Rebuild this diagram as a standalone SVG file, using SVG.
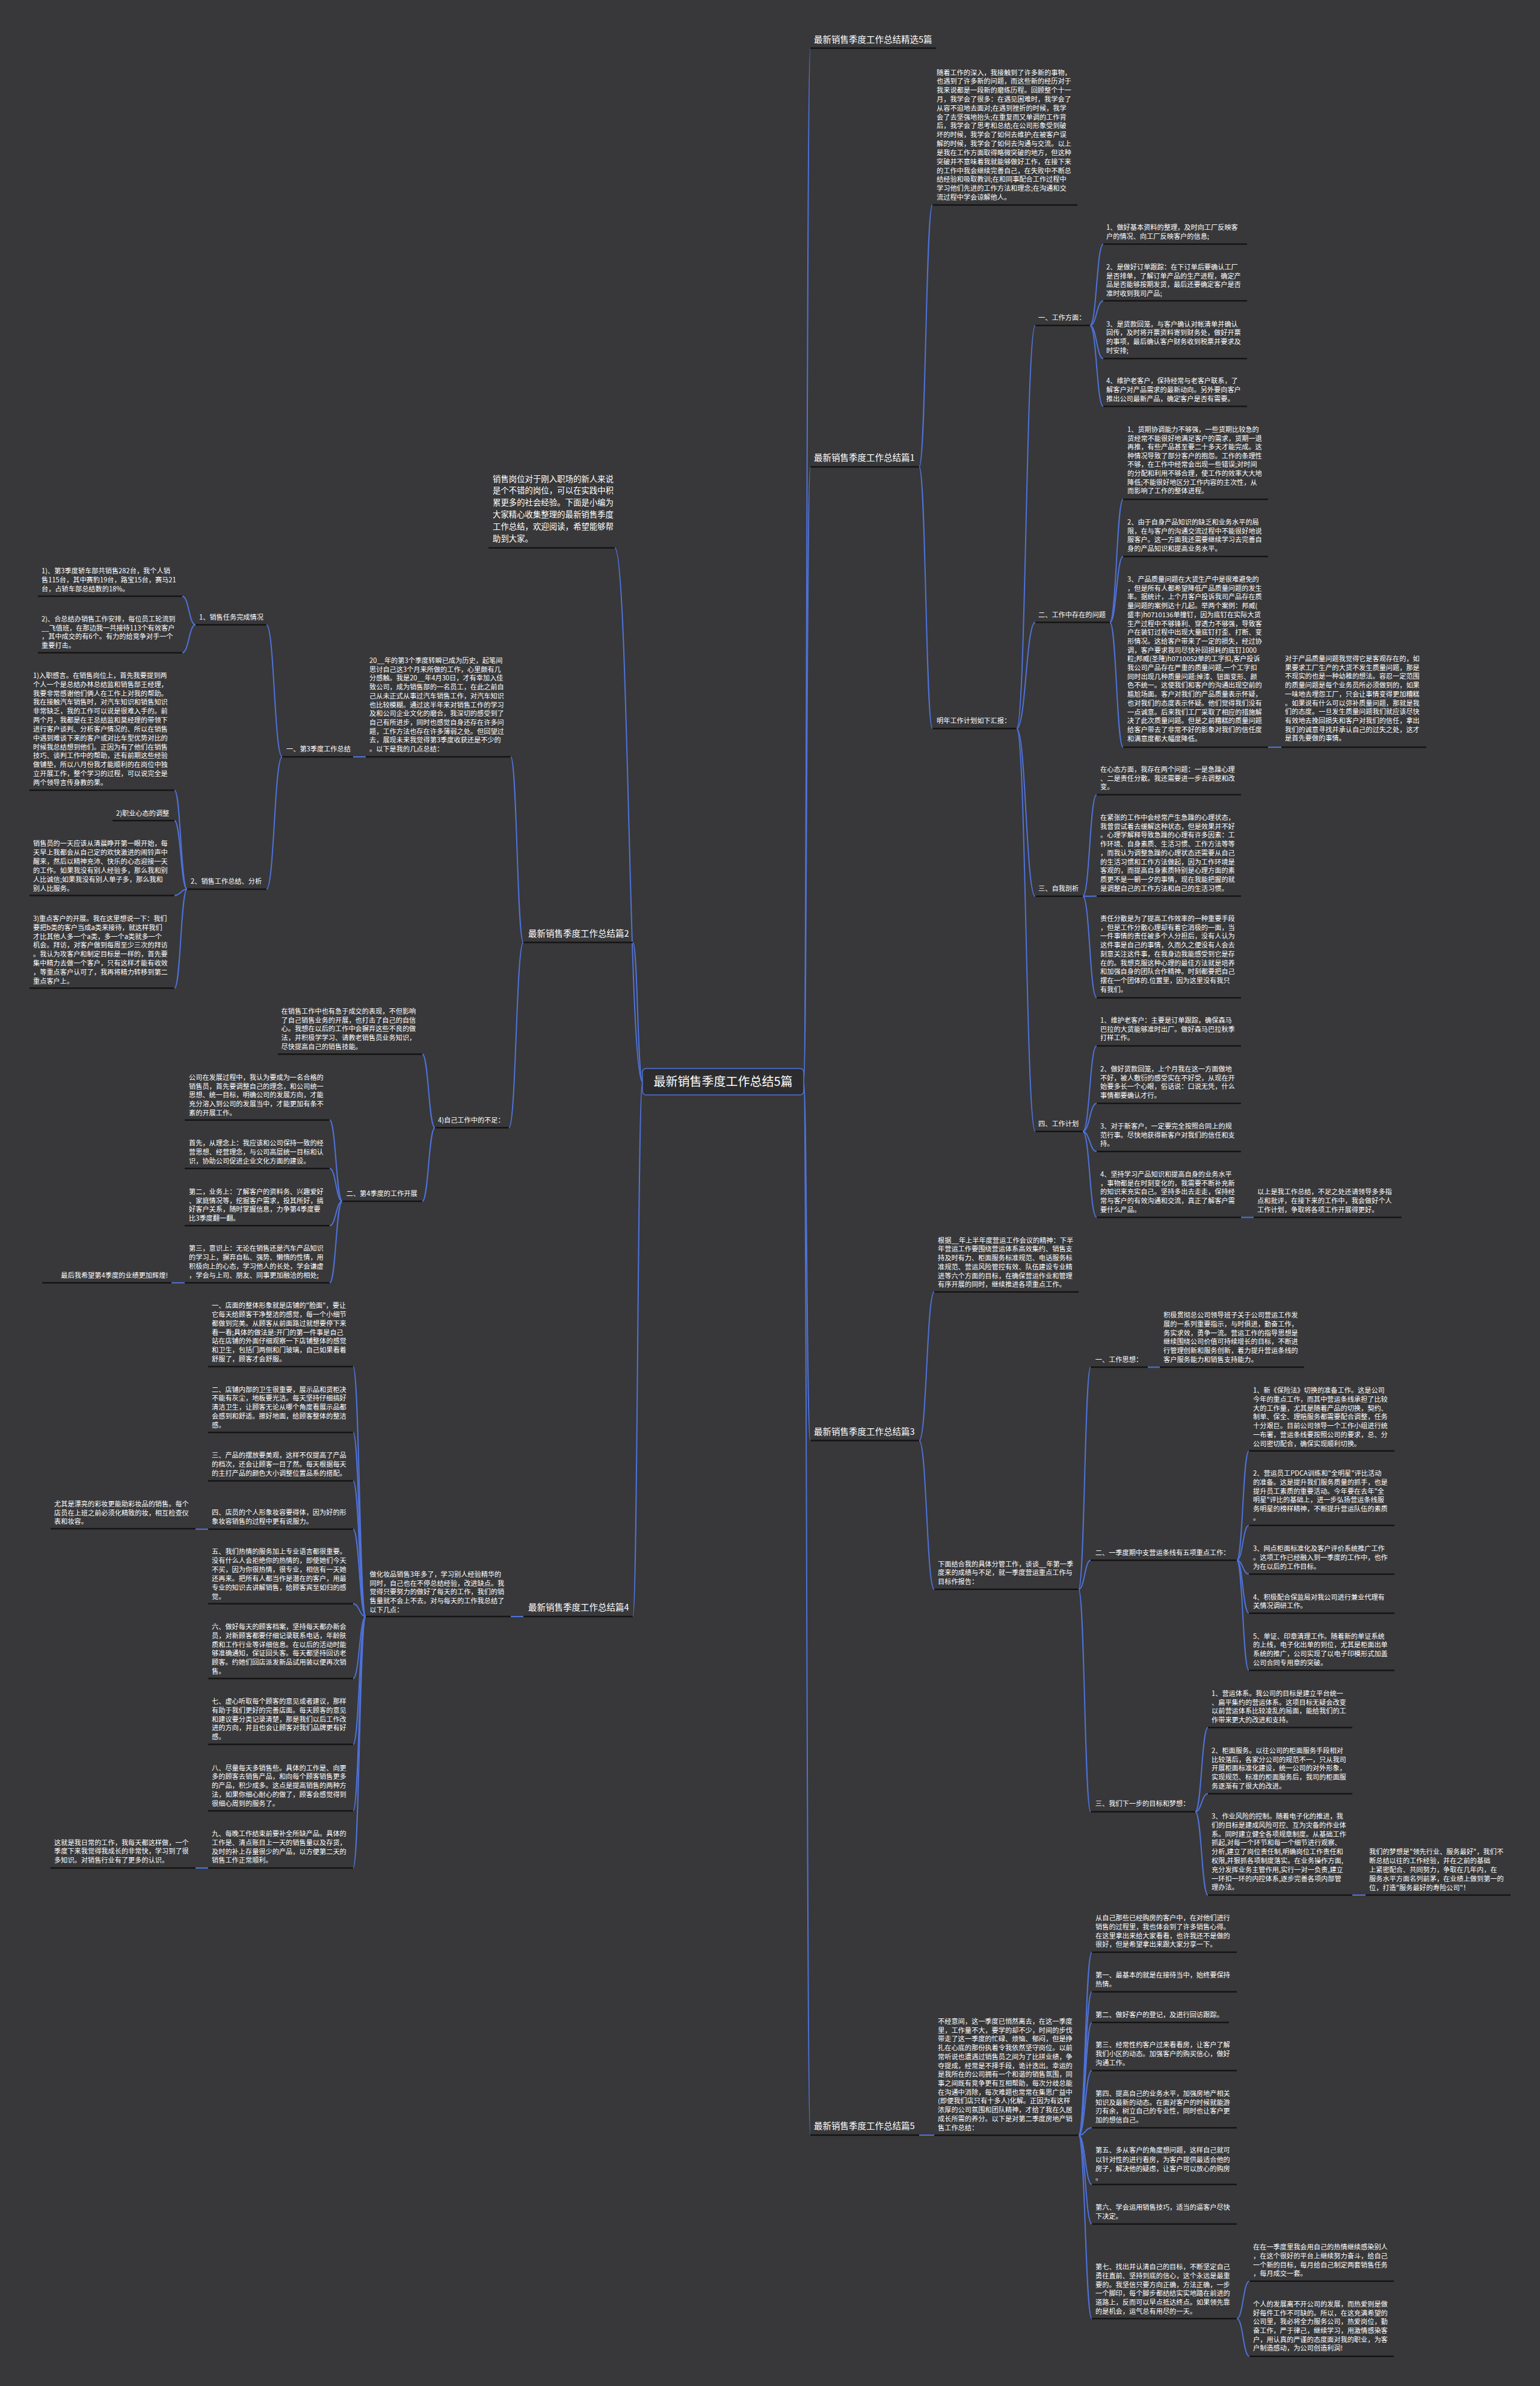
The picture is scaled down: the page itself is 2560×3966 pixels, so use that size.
<svg xmlns="http://www.w3.org/2000/svg" width="2560" height="3966" viewBox="0 0 2560 3966">
<style>
.t{font-family:"Noto Sans CJK SC","Noto Sans",sans-serif;font-size:11.2px;fill:#ffffff}
.h{font-family:"Noto Sans CJK SC","Noto Sans",sans-serif;font-size:14.5px;fill:#ffffff}
.m{font-family:"Noto Sans CJK SC","Noto Sans",sans-serif;font-size:13.4px;fill:#ffffff}
.u{stroke:#141414;stroke-width:2.5;fill:none}
.c{stroke:#4f72d9;stroke-width:2;fill:none}
</style>
<rect width="2560" height="3966" fill="#38383a"/>
<g id="connectors">
<path class="c" d="M1336,1798 C1341,1798 1341,80 1347,80"/>
<path class="c" d="M1336,1798 C1341,1798 1341,776 1347,776"/>
<path class="c" d="M1336,1798 C1341,1798 1341,2394.6 1347,2394.6"/>
<path class="c" d="M1336,1798 C1341,1798 1341,3549 1347,3549"/>
<path class="c" d="M1068,1798 C1045,1798 1045,910.7 1022,910.7"/>
<path class="c" d="M1068,1798 C1060,1798 1060,1566.5 1052,1566.5"/>
<path class="c" d="M1068,1798 C1060,1798 1060,2687 1052,2687"/>
<path class="c" d="M1528,776 C1539,776 1539,340.7 1550,340.7"/>
<path class="c" d="M1528,776 C1539,776 1539,1211 1550,1211"/>
<path class="c" d="M1690,1211 C1705.5,1211 1705.5,541 1721,541"/>
<path class="c" d="M1690,1211 C1705.5,1211 1705.5,1034.6 1721,1034.6"/>
<path class="c" d="M1690,1211 C1705.5,1211 1705.5,1489.8 1721,1489.8"/>
<path class="c" d="M1690,1211 C1705.5,1211 1705.5,1880.8 1721,1880.8"/>
<path class="c" d="M1812,541 C1823,541 1823,405.7 1834,405.7"/>
<path class="c" d="M1812,541 C1823,541 1823,500 1834,500"/>
<path class="c" d="M1812,541 C1823,541 1823,596 1834,596"/>
<path class="c" d="M1812,541 C1823,541 1823,675.5 1834,675.5"/>
<path class="c" d="M1845,1034.6 C1856,1034.6 1856,830 1867,830"/>
<path class="c" d="M1845,1034.6 C1856,1034.6 1856,925 1867,925"/>
<path class="c" d="M1845,1034.6 C1856,1034.6 1856,1242 1867,1242"/>
<path class="c" d="M2108,1242 H2130"/>
<path class="c" d="M1800,1489.8 C1811.5,1489.8 1811.5,1321 1823,1321"/>
<path class="c" d="M1800,1489.8 C1811.5,1489.8 1811.5,1489.5 1823,1489.5"/>
<path class="c" d="M1800,1489.8 C1811.5,1489.8 1811.5,1658.6 1823,1658.6"/>
<path class="c" d="M1800,1880.8 C1811.5,1880.8 1811.5,1738.6 1823,1738.6"/>
<path class="c" d="M1800,1880.8 C1811.5,1880.8 1811.5,1834 1823,1834"/>
<path class="c" d="M1800,1880.8 C1811.5,1880.8 1811.5,1914 1823,1914"/>
<path class="c" d="M1800,1880.8 C1811.5,1880.8 1811.5,2023.5 1823,2023.5"/>
<path class="c" d="M2063,2023.5 H2084"/>
<path class="c" d="M1528,2394.6 C1540.5,2394.6 1540.5,2147.5 1553,2147.5"/>
<path class="c" d="M1528,2394.6 C1540.5,2394.6 1540.5,2641.8 1553,2641.8"/>
<path class="c" d="M1793,2641.8 C1803,2641.8 1803,2272.5 1813,2272.5"/>
<path class="c" d="M1793,2641.8 C1803,2641.8 1803,2593.6 1813,2593.6"/>
<path class="c" d="M1793,2641.8 C1803,2641.8 1803,3011.4 1813,3011.4"/>
<path class="c" d="M1908,2272.5 H1928"/>
<path class="c" d="M2056,2593.6 C2066,2593.6 2066,2411.7 2076,2411.7"/>
<path class="c" d="M2056,2593.6 C2066,2593.6 2066,2535.5 2076,2535.5"/>
<path class="c" d="M2056,2593.6 C2066,2593.6 2066,2616.5 2076,2616.5"/>
<path class="c" d="M2056,2593.6 C2066,2593.6 2066,2681.4 2076,2681.4"/>
<path class="c" d="M2056,2593.6 C2066,2593.6 2066,2776.4 2076,2776.4"/>
<path class="c" d="M1987,3011.4 C1997.5,3011.4 1997.5,2871.4 2008,2871.4"/>
<path class="c" d="M1987,3011.4 C1997.5,3011.4 1997.5,2981.4 2008,2981.4"/>
<path class="c" d="M1987,3011.4 C1997.5,3011.4 1997.5,3150 2008,3150"/>
<path class="c" d="M2248,3150 H2270"/>
<path class="c" d="M1528,3549 H1553"/>
<path class="c" d="M1793,3549.3 C1804,3549.3 1804,3245 1815,3245"/>
<path class="c" d="M1793,3549.3 C1804,3549.3 1804,3310.7 1815,3310.7"/>
<path class="c" d="M1793,3549.3 C1804,3549.3 1804,3361.7 1815,3361.7"/>
<path class="c" d="M1793,3549.3 C1804,3549.3 1804,3441.7 1815,3441.7"/>
<path class="c" d="M1793,3549.3 C1804,3549.3 1804,3536.7 1815,3536.7"/>
<path class="c" d="M1793,3549.3 C1804,3549.3 1804,3631 1815,3631"/>
<path class="c" d="M1793,3549.3 C1804,3549.3 1804,3696.7 1815,3696.7"/>
<path class="c" d="M1793,3549.3 C1804,3549.3 1804,3854 1815,3854"/>
<path class="c" d="M2056,3854 C2066.5,3854 2066.5,3791.7 2077,3791.7"/>
<path class="c" d="M2056,3854 C2066.5,3854 2066.5,3916.7 2077,3916.7"/>
<path class="c" d="M870,1566.5 C859.5,1566.5 859.5,1258 849,1258"/>
<path class="c" d="M870,1566.5 C858,1566.5 858,1874.5 846,1874.5"/>
<path class="c" d="M608,1258 H587"/>
<path class="c" d="M469,1258 C456,1258 456,1038.5 443,1038.5"/>
<path class="c" d="M469,1258 C456,1258 456,1478 443,1478"/>
<path class="c" d="M325,1038.5 C314,1038.5 314,991 303,991"/>
<path class="c" d="M325,1038.5 C314,1038.5 314,1085 303,1085"/>
<path class="c" d="M311,1478 C300.5,1478 300.5,1313.5 290,1313.5"/>
<path class="c" d="M311,1478 C300.5,1478 300.5,1364 290,1364"/>
<path class="c" d="M311,1478 C300.5,1478 300.5,1488.4 290,1488.4"/>
<path class="c" d="M311,1478 C300.5,1478 300.5,1642.5 290,1642.5"/>
<path class="c" d="M723,1874.5 C712.5,1874.5 712.5,1752.3 702,1752.3"/>
<path class="c" d="M723,1874.5 C712.5,1874.5 712.5,1996.7 702,1996.7"/>
<path class="c" d="M569,1996.7 C558.5,1996.7 558.5,1861.7 548,1861.7"/>
<path class="c" d="M569,1996.7 C558.5,1996.7 558.5,1942.3 548,1942.3"/>
<path class="c" d="M569,1996.7 C558.5,1996.7 558.5,2037.3 548,2037.3"/>
<path class="c" d="M569,1996.7 C558.5,1996.7 558.5,2132.3 548,2132.3"/>
<path class="c" d="M307,2132.3 H285"/>
<path class="c" d="M870,2687 H849"/>
<path class="c" d="M608,2687 C597.5,2687 597.5,2271.4 587,2271.4"/>
<path class="c" d="M608,2687 C597.5,2687 597.5,2381 587,2381"/>
<path class="c" d="M608,2687 C597.5,2687 597.5,2461.4 587,2461.4"/>
<path class="c" d="M608,2687 C597.5,2687 597.5,2541.8 587,2541.8"/>
<path class="c" d="M608,2687 C597.5,2687 597.5,2665.7 587,2665.7"/>
<path class="c" d="M608,2687 C597.5,2687 597.5,2790 587,2790"/>
<path class="c" d="M608,2687 C597.5,2687 597.5,2899.6 587,2899.6"/>
<path class="c" d="M608,2687 C597.5,2687 597.5,3010 587,3010"/>
<path class="c" d="M608,2687 C597.5,2687 597.5,3105 587,3105"/>
<path class="c" d="M346,2541.8 H325"/>
<path class="c" d="M346,3105 H325"/>
</g>
<g id="center">
<rect x="1068" y="1776" width="268" height="44" rx="6" fill="#2c2c2e" stroke="#4f72d9" stroke-width="1.5"/>
<text class="h" style="font-size:20px" x="1202" y="1805" text-anchor="middle">最新销售季度工作总结5篇</text>
</g>
<g id="topic0"><text class="h" x="1353" y="71">最新销售季度工作总结精选5篇</text><path class="u" d="M1347,80 H1556"/></g>
<g id="topic1"><text class="h" x="1353" y="766">最新销售季度工作总结篇1</text><path class="u" d="M1347,776 H1528"/></g>
<g id="topic2"><text class="h" x="878" y="1556.5">最新销售季度工作总结篇2</text><path class="u" d="M870,1566.5 H1052"/></g>
<g id="topic3"><text class="h" x="1353" y="2384.6">最新销售季度工作总结篇3</text><path class="u" d="M1347,2394.6 H1528"/></g>
<g id="topic4"><text class="h" x="878" y="2677">最新销售季度工作总结篇4</text><path class="u" d="M870,2687 H1052"/></g>
<g id="topic5"><text class="h" x="1353" y="3539">最新销售季度工作总结篇5</text><path class="u" d="M1347,3549 H1528"/></g>
<g id="intro"><text class="m" x="819" y="800.5"><tspan x="819">销售岗位对于刚入职场的新人来说</tspan><tspan x="819" dy="19.8">是个不错的岗位，可以在实践中积</tspan><tspan x="819" dy="19.8">累更多的社会经验。下面是小编为</tspan><tspan x="819" dy="19.8">大家精心收集整理的最新销售季度</tspan><tspan x="819" dy="19.8">工作总结，欢迎阅读，希望能够帮</tspan><tspan x="819" dy="19.8">助到大家。</tspan></text><path class="u" d="M812,910.7 H1022"/></g>
<g id="p1a"><text class="t" x="1557" y="124.6"><tspan x="1557">随着工作的深入，我接触到了许多新的事物，</tspan><tspan x="1557" dy="14.81">也遇到了许多新的问题，而这些新的经历对于</tspan><tspan x="1557" dy="14.81">我来说都是一段新的磨练历程。回顾整个十一</tspan><tspan x="1557" dy="14.81">月，我学会了很多：在遇见困难时，我学会了</tspan><tspan x="1557" dy="14.81">从容不迫地去面对;在遇到挫折的时候，我学</tspan><tspan x="1557" dy="14.81">会了去坚强地抬头;在重复而又单调的工作背</tspan><tspan x="1557" dy="14.81">后，我学会了思考和总结;在公司形象受到破</tspan><tspan x="1557" dy="14.81">坏的时候，我学会了如何去维护;在被客户误</tspan><tspan x="1557" dy="14.81">解的时候，我学会了如何去沟通与交流。以上</tspan><tspan x="1557" dy="14.81">是我在工作方面取得略微突破的地方，但这种</tspan><tspan x="1557" dy="14.81">突破并不意味着我就能够做好工作，在接下来</tspan><tspan x="1557" dy="14.81">的工作中我会继续完善自己，在失败中不断总</tspan><tspan x="1557" dy="14.81">结经验和吸取教训;在和同事配合工作过程中</tspan><tspan x="1557" dy="14.81">学习他们先进的工作方法和理念;在沟通和交</tspan><tspan x="1557" dy="14.81">流过程中学会谅解他人。</tspan></text><path class="u" d="M1550,340.7 H1791"/></g>
<g id="p1b"><text class="t" x="1557" y="1202">明年工作计划如下汇报：</text><path class="u" d="M1550,1211 H1690"/></g>
<g id="p1s1"><text class="t" x="1726" y="532">一、工作方面：</text><path class="u" d="M1721,541 H1812"/></g>
<g id="p1s1i1"><text class="t" x="1839" y="382"><tspan x="1839">1、做好基本资料的整理，及时向工厂反映客</tspan><tspan x="1839" dy="14.7">户的情况、向工厂反映客户的信息;</tspan></text><path class="u" d="M1834,405.7 H2073"/></g>
<g id="p1s1i2"><text class="t" x="1839" y="448"><tspan x="1839">2、是做好订单跟踪：在下订单后要确认工厂</tspan><tspan x="1839" dy="14.7">是否排单，了解订单产品的生产进程，确定产</tspan><tspan x="1839" dy="14.7">品是否能够按期发货，最后还要确定客户是否</tspan><tspan x="1839" dy="14.7">准时收到我司产品;</tspan></text><path class="u" d="M1834,500 H2073"/></g>
<g id="p1s1i3"><text class="t" x="1839" y="542.5"><tspan x="1839">3、是货款回笼，与客户确认对帐清单并确认</tspan><tspan x="1839" dy="14.7">回传，及时将开票资料寄到财务处，做好开票</tspan><tspan x="1839" dy="14.7">的事项，最后确认客户财务收到税票并要求及</tspan><tspan x="1839" dy="14.7">时安排;</tspan></text><path class="u" d="M1834,596 H2073"/></g>
<g id="p1s1i4"><text class="t" x="1839" y="637.4"><tspan x="1839">4、维护老客户，保持经常与老客户联系，了</tspan><tspan x="1839" dy="14.7">解客户对产品需求的最新动向。另外要向客户</tspan><tspan x="1839" dy="14.7">推出公司最新产品，确定客户是否有需要。</tspan></text><path class="u" d="M1834,675.5 H2073"/></g>
<g id="p1s2"><text class="t" x="1726" y="1026">二、工作中存在的问题</text><path class="u" d="M1721,1034.6 H1845"/></g>
<g id="p1s2i1"><text class="t" x="1874" y="718"><tspan x="1874">1、货期协调能力不够强，一些货期比较急的</tspan><tspan x="1874" dy="14.6">货经常不能很好地满足客户的需求，货期一退</tspan><tspan x="1874" dy="14.6">再推，有些产品甚至要二十多天才能完成。这</tspan><tspan x="1874" dy="14.6">种情况导致了部分客户的抱怨。工作的条理性</tspan><tspan x="1874" dy="14.6">不够，在工作中经常会出现一些错误;对时间</tspan><tspan x="1874" dy="14.6">的分配和利用不够合理，使工作的效率大大地</tspan><tspan x="1874" dy="14.6">降低;不能很好地区分工作内容的主次性，从</tspan><tspan x="1874" dy="14.6">而影响了工作的整体进程。</tspan></text><path class="u" d="M1867,830 H2108"/></g>
<g id="p1s2i2"><text class="t" x="1874" y="872"><tspan x="1874">2、由于自身产品知识的缺乏和业务水平的局</tspan><tspan x="1874" dy="14.7">限，在与客户的沟通交流过程中不能很好地说</tspan><tspan x="1874" dy="14.7">服客户。这一方面我还需要继续学习去完善自</tspan><tspan x="1874" dy="14.7">身的产品知识和提高业务水平。</tspan></text><path class="u" d="M1867,925 H2108"/></g>
<g id="p1s2i3"><text class="t" x="1874" y="967"><tspan x="1874">3、产品质量问题在大货生产中是很难避免的</tspan><tspan x="1874" dy="14.7">，但是所有人都希望降低产品质量问题的发生</tspan><tspan x="1874" dy="14.7">率。据统计，上个月客户投诉我司产品存在质</tspan><tspan x="1874" dy="14.7">量问题的案例达十几起。举两个案例：邦威(</tspan><tspan x="1874" dy="14.7">盛丰)h0710136单撞钉，因为底钉在实际大货</tspan><tspan x="1874" dy="14.7">生产过程中不够锋利、穿透力不够强，导致客</tspan><tspan x="1874" dy="14.7">户在装钉过程中出现大量底钉打歪、打断、变</tspan><tspan x="1874" dy="14.7">形情况。这给客户带来了一定的损失，经过协</tspan><tspan x="1874" dy="14.7">调，客户要求我司尽快补回损耗的底钉1000</tspan><tspan x="1874" dy="14.7">粒;邦威(圣隆)h0710052单的工字扣,客户投诉</tspan><tspan x="1874" dy="14.7">我公司产品存在严重的质量问题,一个工字扣</tspan><tspan x="1874" dy="14.7">同时出现几种质量问题:掉漆、钮面变形、颜</tspan><tspan x="1874" dy="14.7">色不统一。这使我们和客户的沟通出现空前的</tspan><tspan x="1874" dy="14.7">尴尬场面。客户对我们的产品质量表示怀疑，</tspan><tspan x="1874" dy="14.7">也对我们的态度表示怀疑。他们觉得我们没有</tspan><tspan x="1874" dy="14.7">一点诚意。后来我们工厂采取了相应的措施解</tspan><tspan x="1874" dy="14.7">决了此次质量问题。但是之前糟糕的质量问题</tspan><tspan x="1874" dy="14.7">给客户带去了非常不好的影象对我们的信任度</tspan><tspan x="1874" dy="14.7">和满意度都大幅度降低。</tspan></text><path class="u" d="M1867,1242 H2108"/></g>
<g id="p1s2n"><text class="t" x="2136" y="1099"><tspan x="2136">对于产品质量问题我觉得它是客观存在的，如</tspan><tspan x="2136" dy="14.7">果要求工厂生产的大货不发生质量问题，那是</tspan><tspan x="2136" dy="14.7">不现实的也是一种幼稚的想法。容忍一定范围</tspan><tspan x="2136" dy="14.7">的质量问题是每个业务员所必须做到的，如果</tspan><tspan x="2136" dy="14.7">一味地去埋怨工厂，只会让事情变得更加糟糕</tspan><tspan x="2136" dy="14.7">。如果说有什么可以弥补质量问题，那就是我</tspan><tspan x="2136" dy="14.7">们的态度。一旦发生质量问题我们就应该尽快</tspan><tspan x="2136" dy="14.7">有效地去挽回损失和客户对我们的信任，拿出</tspan><tspan x="2136" dy="14.7">我们的诚意寻找并承认自己的过失之处，这才</tspan><tspan x="2136" dy="14.7">是首先要做的事情。</tspan></text><path class="u" d="M2130,1242 H2371"/></g>
<g id="p1s3"><text class="t" x="1726" y="1481">三、自我剖析</text><path class="u" d="M1721,1489.8 H1800"/></g>
<g id="p1s3i1"><text class="t" x="1829" y="1283"><tspan x="1829">在心态方面，我存在两个问题：一是急躁心理</tspan><tspan x="1829" dy="14.7">、二是责任分散。我还需要进一步去调整和改</tspan><tspan x="1829" dy="14.7">变。</tspan></text><path class="u" d="M1823,1321 H2063"/></g>
<g id="p1s3i2"><text class="t" x="1829" y="1363"><tspan x="1829">在紧张的工作中会经常产生急躁的心理状态，</tspan><tspan x="1829" dy="14.7">我曾尝试着去缓解这种状态，但是效果并不好</tspan><tspan x="1829" dy="14.7">。心理学解释导致急躁的心理有许多因素：工</tspan><tspan x="1829" dy="14.7">作环境、自身素质、生活习惯、工作方法等等</tspan><tspan x="1829" dy="14.7">，而我认为调整急躁的心理状态还需要从自己</tspan><tspan x="1829" dy="14.7">的生活习惯和工作方法做起，因为工作环境是</tspan><tspan x="1829" dy="14.7">客观的，而提高自身素质特别是心理方面的素</tspan><tspan x="1829" dy="14.7">质更不是一朝一夕的事情，现在我能把握的就</tspan><tspan x="1829" dy="14.7">是调整自己的工作方法和自己的生活习惯。</tspan></text><path class="u" d="M1823,1489.5 H2063"/></g>
<g id="p1s3i3"><text class="t" x="1829" y="1531"><tspan x="1829">责任分散是为了提高工作效率的一种重要手段</tspan><tspan x="1829" dy="14.7">，但是工作分散心理却有着它消极的一面，当</tspan><tspan x="1829" dy="14.7">一件事情的责任被多个人分担后，没有人认为</tspan><tspan x="1829" dy="14.7">这件事是自己的事情，久而久之便没有人会去</tspan><tspan x="1829" dy="14.7">刻意关注这件事，在我身边我能感受到它是存</tspan><tspan x="1829" dy="14.7">在的。我想克服这种心理的最佳方法就是培养</tspan><tspan x="1829" dy="14.7">和加强自身的团队合作精神。时刻都要把自己</tspan><tspan x="1829" dy="14.7">摆在一个团体的.位置里，因为这里没有我只</tspan><tspan x="1829" dy="14.7">有我们。</tspan></text><path class="u" d="M1823,1658.6 H2063"/></g>
<g id="p1s4"><text class="t" x="1726" y="1872">四、工作计划</text><path class="u" d="M1721,1880.8 H1800"/></g>
<g id="p1s4i1"><text class="t" x="1829" y="1700"><tspan x="1829">1、维护老客户：主要是订单跟踪，确保森马</tspan><tspan x="1829" dy="14.7">巴拉的大货能够准时出厂。做好森马巴拉秋季</tspan><tspan x="1829" dy="14.7">打样工作。</tspan></text><path class="u" d="M1823,1738.6 H2063"/></g>
<g id="p1s4i2"><text class="t" x="1829" y="1781"><tspan x="1829">2、做好货款回笼，上个月我在这一方面做地</tspan><tspan x="1829" dy="14.7">不好，被人敷衍的感受实在不好受，从现在开</tspan><tspan x="1829" dy="14.7">始要多长一个心眼，俗话说：口说无凭，什么</tspan><tspan x="1829" dy="14.7">事情都要确认才行。</tspan></text><path class="u" d="M1823,1834 H2063"/></g>
<g id="p1s4i3"><text class="t" x="1829" y="1876"><tspan x="1829">3、对于新客户，一定要完全按照合同上的规</tspan><tspan x="1829" dy="14.7">范行事。尽快地获得新客户对我们的信任和支</tspan><tspan x="1829" dy="14.7">持。</tspan></text><path class="u" d="M1823,1914 H2063"/></g>
<g id="p1s4i4"><text class="t" x="1829" y="1956"><tspan x="1829">4、坚持学习产品知识和提高自身的业务水平</tspan><tspan x="1829" dy="14.7">，事物都是在时刻变化的，我需要不断补充新</tspan><tspan x="1829" dy="14.7">的知识来充实自己。坚持多出去走走，保持经</tspan><tspan x="1829" dy="14.7">常与客户的有效沟通和交流，真正了解客户需</tspan><tspan x="1829" dy="14.7">要什么产品。</tspan></text><path class="u" d="M1823,2023.5 H2063"/></g>
<g id="p1s4n"><text class="t" x="2090" y="1985.4"><tspan x="2090">以上是我工作总结，不足之处还请领导多多指</tspan><tspan x="2090" dy="14.7">点和批评，在接下来的工作中，我会做好个人</tspan><tspan x="2090" dy="14.7">工作计划，争取将各项工作开展得更好。</tspan></text><path class="u" d="M2084,2023.5 H2330"/></g>
<g id="p2a"><text class="t" x="614" y="1102"><tspan x="614">20__年的第3个季度转瞬已成为历史，起笔间</tspan><tspan x="614" dy="14.7">思讨自己这3个月来所做的工作，心里颇有几</tspan><tspan x="614" dy="14.7">分感触。我是20__年4月30日，才有幸加入佳</tspan><tspan x="614" dy="14.7">致公司，成为销售部的一名员工，在此之前自</tspan><tspan x="614" dy="14.7">己从未正式从事过汽车销售工作，对汽车知识</tspan><tspan x="614" dy="14.7">也比较模糊。通过这半年来对销售工作的学习</tspan><tspan x="614" dy="14.7">及和公司企业文化的磨合，我深切的感受到了</tspan><tspan x="614" dy="14.7">自己有所进步，同时也感觉自身还存在许多问</tspan><tspan x="614" dy="14.7">题，工作方法也存在许多薄弱之处。但回望过</tspan><tspan x="614" dy="14.7">去，展现未来我觉得第3季度收获还是不少的</tspan><tspan x="614" dy="14.7">。以下是我的几点总结：</tspan></text><path class="u" d="M608,1258 H849"/></g>
<g id="p2s1"><text class="t" x="476" y="1249">一、第3季度工作总结</text><path class="u" d="M469,1258 H587"/></g>
<g id="p2s1a"><text class="t" x="331" y="1029.5">1、销售任务完成情况</text><path class="u" d="M325,1038.5 H443"/></g>
<g id="p2s1a1"><text class="t" x="69" y="952.5"><tspan x="69">1)、第3季度轿车部共销售282台，我个人销</tspan><tspan x="69" dy="15">售115台，其中赛豹19台，路宝15台，赛马21</tspan><tspan x="69" dy="15">台，占轿车部总结数的18%。</tspan></text><path class="u" d="M63,991 H303"/></g>
<g id="p2s1a2"><text class="t" x="69" y="1033"><tspan x="69">2)、合总结办销售工作安排，每位员工轮流到</tspan><tspan x="69" dy="14.7">__飞值班，在那边我一共接待113个有效客户</tspan><tspan x="69" dy="14.7">，其中成交的有6个。有力的给竞争对手一个</tspan><tspan x="69" dy="14.7">重要打击。</tspan></text><path class="u" d="M63,1085 H303"/></g>
<g id="p2s1b"><text class="t" x="317" y="1469">2、销售工作总结、分析</text><path class="u" d="M311,1478 H443"/></g>
<g id="p2s1b1"><text class="t" x="55" y="1127"><tspan x="55">1)入职感言。在销售岗位上，首先我要提到两</tspan><tspan x="55" dy="14.83">个人一个是总结办林总结监和销售部王经理，</tspan><tspan x="55" dy="14.83">我要非常感谢他们俩人在工作上对我的帮助。</tspan><tspan x="55" dy="14.83">我在接触汽车销售时，对汽车知识和销售知识</tspan><tspan x="55" dy="14.83">非常缺乏，我的工作可以说是很难入手的。前</tspan><tspan x="55" dy="14.83">两个月，我都是在王总结监和莫经理的带领下</tspan><tspan x="55" dy="14.83">进行客户谈判、分析客户情况的、所以在销售</tspan><tspan x="55" dy="14.83">中遇到难谈下来的客户或对比车型优势对比的</tspan><tspan x="55" dy="14.83">时候我总结想到他们。正因为有了他们在销售</tspan><tspan x="55" dy="14.83">技巧、谈判工作中的帮助，还有前期这些经验</tspan><tspan x="55" dy="14.83">做铺垫，所以八月份我才能顺利的在岗位中独</tspan><tspan x="55" dy="14.83">立开展工作，整个学习的过程，可以说完全是</tspan><tspan x="55" dy="14.83">两个领导言传身教的果。</tspan></text><path class="u" d="M49,1313.5 H290"/></g>
<g id="p2s1b2"><text class="t" x="193" y="1355.6">2)职业心态的调整</text><path class="u" d="M187,1364 H290"/></g>
<g id="p2s1b3"><text class="t" x="55" y="1406"><tspan x="55">销售员的一天应该从清晨睁开第一眼开始，每</tspan><tspan x="55" dy="14.9">天早上我都会从自己定的欢快激进的闹铃声中</tspan><tspan x="55" dy="14.9">醒来，然后以精神充沛、快乐的心态迎接一天</tspan><tspan x="55" dy="14.9">的工作。如果我没有别人经验多，那么我和别</tspan><tspan x="55" dy="14.9">人比诚信;如果我没有别人单子多，那么我和</tspan><tspan x="55" dy="14.9">别人比服务。</tspan></text><path class="u" d="M49,1488.4 H290"/></g>
<g id="p2s1b4"><text class="t" x="55" y="1531"><tspan x="55">3)重点客户的开展。我在这里想说一下：我们</tspan><tspan x="55" dy="14.8">要把b类的客户当成a类来接待，就这样我们</tspan><tspan x="55" dy="14.8">才比其他人多一个a类，多一个a类就多一个</tspan><tspan x="55" dy="14.8">机会。拜访，对客户做到每周至少三次的拜访</tspan><tspan x="55" dy="14.8">。我认为攻客户和制定目标是一样的，首先要</tspan><tspan x="55" dy="14.8">集中精力去做一个客户，只有这样才能有收效</tspan><tspan x="55" dy="14.8">，等重点客户认可了，我再将精力转移到第二</tspan><tspan x="55" dy="14.8">重点客户上。</tspan></text><path class="u" d="M49,1642.5 H290"/></g>
<g id="p2b"><text class="t" x="728" y="1865.7">4)自己工作中的不足：</text><path class="u" d="M723,1874.5 H846"/></g>
<g id="p2b1"><text class="t" x="467.5" y="1684.7"><tspan x="467.5">在销售工作中也有急于成交的表现，不但影响</tspan><tspan x="467.5" dy="14.8">了自己销售业务的开展，也打击了自己的自信</tspan><tspan x="467.5" dy="14.8">心。我想在以后的工作中会摒弃这些不良的做</tspan><tspan x="467.5" dy="14.8">法，并积极学学习、请教老销售员业务知识，</tspan><tspan x="467.5" dy="14.8">尽快提高自己的销售技能。</tspan></text><path class="u" d="M462,1752.3 H702"/></g>
<g id="p2b2"><text class="t" x="575.7" y="1988.3">二、第4季度的工作开展</text><path class="u" d="M569,1996.7 H702"/></g>
<g id="p2b2a"><text class="t" x="314" y="1794.7"><tspan x="314">公司在发展过程中，我认为要成为一名合格的</tspan><tspan x="314" dy="14.8">销售员，首先要调整自己的理念，和公司统一</tspan><tspan x="314" dy="14.8">思想、统一目标，明确公司的发展方向，才能</tspan><tspan x="314" dy="14.8">充分溶入到公司的发展当中，才能更加有条不</tspan><tspan x="314" dy="14.8">紊的开展工作。</tspan></text><path class="u" d="M307,1861.7 H548"/></g>
<g id="p2b2b"><text class="t" x="314" y="1904"><tspan x="314">首先，从理念上：我应该和公司保持一致的经</tspan><tspan x="314" dy="15">营思想、经营理念，与公司高层统一目标和认</tspan><tspan x="314" dy="15">识，协助公司促进企业文化方面的建设。</tspan></text><path class="u" d="M307,1942.3 H548"/></g>
<g id="p2b2c"><text class="t" x="314" y="1984.7"><tspan x="314">第二，业务上：了解客户的资料务、兴趣爱好</tspan><tspan x="314" dy="14.8">、家庭情况等，挖掘客户需求，投其所好，搞</tspan><tspan x="314" dy="14.8">好客户关系，随时掌握信息，力争第4季度要</tspan><tspan x="314" dy="14.8">比3季度翻一翻。</tspan></text><path class="u" d="M307,2037.3 H548"/></g>
<g id="p2b2d"><text class="t" x="314" y="2079"><tspan x="314">第三，意识上：无论在销售还是汽车产品知识</tspan><tspan x="314" dy="15">的学习上，摒弃自私、强势、懒惰的性情，用</tspan><tspan x="314" dy="15">积极向上的心态，学习他人的长处，学会谦虚</tspan><tspan x="314" dy="15">，学会与上司、朋友、同事更加融洽的相处;</tspan></text><path class="u" d="M307,2132.3 H548"/></g>
<g id="p2b2e"><text class="t" x="279" y="2124" text-anchor="end">最后我希望第4季度的业绩更加辉煌!</text><path class="u" d="M70,2132.3 H285"/></g>
<g id="p3a"><text class="t" x="1559" y="2065.7"><tspan x="1559">根据__年上半年度营运工作会议的精神：下半</tspan><tspan x="1559" dy="14.7">年营运工作要围绕营运体系高效集约、销售支</tspan><tspan x="1559" dy="14.7">持及时有力、柜面服务标准规范、电话服务标</tspan><tspan x="1559" dy="14.7">准规范、营运风险管控有效、队伍建设专业精</tspan><tspan x="1559" dy="14.7">进等六个方面的目标，在确保营运作业和管理</tspan><tspan x="1559" dy="14.7">有序开展的同时，继续推进各项重点工作。</tspan></text><path class="u" d="M1553,2147.5 H1793"/></g>
<g id="p3b"><text class="t" x="1559" y="2603.5"><tspan x="1559">下面结合我的具体分管工作，谈谈__年第一季</tspan><tspan x="1559" dy="14.7">度来的成绩与不足，就一季度营运重点工作与</tspan><tspan x="1559" dy="14.7">目标作报告：</tspan></text><path class="u" d="M1553,2641.8 H1793"/></g>
<g id="p3s1"><text class="t" x="1820.8" y="2263.5">一、工作思想：</text><path class="u" d="M1813,2272.5 H1908"/></g>
<g id="p3s1a"><text class="t" x="1934" y="2190.3"><tspan x="1934">积极贯彻总公司领导班子关于公司营运工作发</tspan><tspan x="1934" dy="14.64">展的一系列重要指示，与时俱进，勤奋工作，</tspan><tspan x="1934" dy="14.64">务实求效，勇争一流。营运工作的指导思想是</tspan><tspan x="1934" dy="14.64">继续围绕公司价值可持续增长的目标，不断进</tspan><tspan x="1934" dy="14.64">行管理创新和服务创新，着力提升营运条线的</tspan><tspan x="1934" dy="14.64">客户服务能力和销售支持能力。</tspan></text><path class="u" d="M1928,2272.5 H2168"/></g>
<g id="p3s2"><text class="t" x="1820.8" y="2585">二、一季度期中支营运条线有五项重点工作：</text><path class="u" d="M1813,2593.6 H2056"/></g>
<g id="p3s2i1"><text class="t" x="2083" y="2314.9"><tspan x="2083">1、新《保险法》切换的准备工作。这是公司</tspan><tspan x="2083" dy="14.8">今年的重点工作，而其中营运条线承担了比较</tspan><tspan x="2083" dy="14.8">大的工作量，尤其是随着产品的切换，契约、</tspan><tspan x="2083" dy="14.8">制单、保全、理赔服务都需要配合调整，任务</tspan><tspan x="2083" dy="14.8">十分艰巨。目前公司领导一个工作小组进行统</tspan><tspan x="2083" dy="14.8">一布署，营运条线要按照公司的要求，总、分</tspan><tspan x="2083" dy="14.8">公司密切配合，确保实现顺利切换。</tspan></text><path class="u" d="M2076,2411.7 H2318"/></g>
<g id="p3s2i2"><text class="t" x="2083" y="2453.3"><tspan x="2083">2、营运员工PDCA训练和"全明星"评比活动</tspan><tspan x="2083" dy="14.7">的准备。这是提升我们服务质量的抓手，也是</tspan><tspan x="2083" dy="14.7">提升员工素质的重要活动。今年要在去年"全</tspan><tspan x="2083" dy="14.7">明星"评比的基础上，进一步弘扬营运条线服</tspan><tspan x="2083" dy="14.7">务明星的榜样精神，不断提升营运队伍的素质</tspan><tspan x="2083" dy="14.7">。</tspan></text><path class="u" d="M2076,2535.5 H2318"/></g>
<g id="p3s2i3"><text class="t" x="2083" y="2577.8"><tspan x="2083">3、网点柜面标准化及客户评价系统推广工作</tspan><tspan x="2083" dy="14.85">。这项工作已经融入到一季度的工作中，也作</tspan><tspan x="2083" dy="14.85">为在以后的工作目标。</tspan></text><path class="u" d="M2076,2616.5 H2318"/></g>
<g id="p3s2i4"><text class="t" x="2083" y="2659.4"><tspan x="2083">4、积极配合保监局对我公司进行兼业代理有</tspan><tspan x="2083" dy="13.6">关情况调研工作。</tspan></text><path class="u" d="M2076,2681.4 H2318"/></g>
<g id="p3s2i5"><text class="t" x="2083" y="2723.6"><tspan x="2083">5、单证、印章清理工作。随着新的单证系统</tspan><tspan x="2083" dy="14.7">的上线，电子化出单的到位，尤其是柜面出单</tspan><tspan x="2083" dy="14.7">系统的推广，公司实现了以电子印模形式加盖</tspan><tspan x="2083" dy="14.7">公司合同专用章的突破。</tspan></text><path class="u" d="M2076,2776.4 H2318"/></g>
<g id="p3s3"><text class="t" x="1820.8" y="3002.4">三、我们下一步的目标和梦想：</text><path class="u" d="M1813,3011.4 H1987"/></g>
<g id="p3s3i1"><text class="t" x="2014" y="2819"><tspan x="2014">1、营运体系。我公司的目标是建立平台统一</tspan><tspan x="2014" dy="14.7">、扁平集约的营运体系。这项目标无疑会改变</tspan><tspan x="2014" dy="14.7">以前营运体系比较凌乱的局面，能给我们的工</tspan><tspan x="2014" dy="14.7">作带来更大的改进和支持。</tspan></text><path class="u" d="M2008,2871.4 H2248"/></g>
<g id="p3s3i2"><text class="t" x="2014" y="2914"><tspan x="2014">2、柜面服务。以往公司的柜面服务手段相对</tspan><tspan x="2014" dy="14.65">比较落后，各家分公司的规范不一，只从我司</tspan><tspan x="2014" dy="14.65">开展柜面标准化建设，统一公司的对外形象，</tspan><tspan x="2014" dy="14.65">实现规范、标准的柜面服务后，我司的柜面服</tspan><tspan x="2014" dy="14.65">务逐渐有了很大的改进。</tspan></text><path class="u" d="M2008,2981.4 H2248"/></g>
<g id="p3s3i3"><text class="t" x="2014" y="3023"><tspan x="2014">3、作业风险的控制。随着电子化的推进，我</tspan><tspan x="2014" dy="14.8">们的目标是建成风险可控、互为灾备的作业体</tspan><tspan x="2014" dy="14.8">系。同时建立健全各项规章制度。从基础工作</tspan><tspan x="2014" dy="14.8">抓起,对每一个环节和每一个细节进行观察、</tspan><tspan x="2014" dy="14.8">分析,建立了岗位责任制,明确岗位工作责任和</tspan><tspan x="2014" dy="14.8">权限,并狠抓各项制度落实。在业务操作方面,</tspan><tspan x="2014" dy="14.8">充分发挥业务主管作用,实行一对一负责,建立</tspan><tspan x="2014" dy="14.8">一环扣一环的内控体系,逐步完善各项内部管</tspan><tspan x="2014" dy="14.8">理办法。</tspan></text><path class="u" d="M2008,3150 H2248"/></g>
<g id="p3s3n"><text class="t" x="2276" y="3082"><tspan x="2276">我们的梦想是"领先行业、服务最好"，我们不</tspan><tspan x="2276" dy="14.9">断总结以往的工作经验，并在之前的基础</tspan><tspan x="2276" dy="14.9">上紧密配合、共同努力，争取在几年内，在</tspan><tspan x="2276" dy="14.9">服务水平方面名列前茅，在业绩上做到第一的</tspan><tspan x="2276" dy="14.9">位，打造"服务最好的寿险公司"！</tspan></text><path class="u" d="M2270,3150 H2511"/></g>
<g id="p4a"><text class="t" x="614.5" y="2620.8"><tspan x="614.5">做化妆品销售3年多了，学习别人经验精华的</tspan><tspan x="614.5" dy="14.7">同时，自己也在不停总结经验，改进缺点。我</tspan><tspan x="614.5" dy="14.7">觉得只要努力的做好了每天的工作，我们的销</tspan><tspan x="614.5" dy="14.7">售量就不会上不去。对与每天的工作我总结了</tspan><tspan x="614.5" dy="14.7">以下几点：</tspan></text><path class="u" d="M608,2687 H849"/></g>
<g id="p4i1"><text class="t" x="352" y="2174.4"><tspan x="352">一、店面的整体形象就是店铺的"脸面"，要让</tspan><tspan x="352" dy="14.77">它每天给顾客干净整洁的感觉，每一个小细节</tspan><tspan x="352" dy="14.77">都做到完美。从顾客从前面路过就想要停下来</tspan><tspan x="352" dy="14.77">看一看;具体的做法是:开门的第一件事是自己</tspan><tspan x="352" dy="14.77">站在店铺的外面仔细观察一下店铺整体的感觉</tspan><tspan x="352" dy="14.77">和卫生，包括门两侧和门玻璃，自己如果看着</tspan><tspan x="352" dy="14.77">舒服了，顾客才会舒服。</tspan></text><path class="u" d="M346,2271.4 H587"/></g>
<g id="p4i2"><text class="t" x="352" y="2313.6"><tspan x="352">二、店铺内部的卫生很重要，展示品和货柜决</tspan><tspan x="352" dy="14.75">不能有灰尘，地板要光洁。每天坚持仔细搞好</tspan><tspan x="352" dy="14.75">清洁卫生，让顾客无论从哪个角度看展示品都</tspan><tspan x="352" dy="14.75">会感到和舒适。擦好地面，给顾客整体的整洁</tspan><tspan x="352" dy="14.75">感。</tspan></text><path class="u" d="M346,2381 H587"/></g>
<g id="p4i3"><text class="t" x="352" y="2423.3"><tspan x="352">三、产品的摆放要美观，这样不仅提高了产品</tspan><tspan x="352" dy="14.65">的档次，还会让顾客一目了然。每天根据每天</tspan><tspan x="352" dy="14.65">的主打产品的颜色大小调整位置品系的搭配。</tspan></text><path class="u" d="M346,2461.4 H587"/></g>
<g id="p4i4"><text class="t" x="352" y="2518.3"><tspan x="352">四、店员的个人形象妆容要得体，因为好的形</tspan><tspan x="352" dy="15">象妆容销售的过程中更有说服力。</tspan></text><path class="u" d="M346,2541.8 H587"/></g>
<g id="p4i4n"><text class="t" x="90" y="2504"><tspan x="90">尤其是漂亮的彩妆更能助彩妆品的销售。每个</tspan><tspan x="90" dy="14.5">店员在上班之前必须化精致的妆，相互检查仪</tspan><tspan x="90" dy="14.5">表和妆容。</tspan></text><path class="u" d="M84,2541 H325"/></g>
<g id="p4i5"><text class="t" x="352" y="2583.3"><tspan x="352">五、我们热情的服务加上专业语言都很重要。</tspan><tspan x="352" dy="15">没有什么人会拒绝你的热情的，即使她们今天</tspan><tspan x="352" dy="15">不买，因为你很热情，很专业，相信有一天她</tspan><tspan x="352" dy="15">还再来。把所有人都当作是潜在的客户，用最</tspan><tspan x="352" dy="15">专业的知识去讲解销售，给顾客宾至如归的感</tspan><tspan x="352" dy="15">觉。</tspan></text><path class="u" d="M346,2665.7 H587"/></g>
<g id="p4i6"><text class="t" x="352" y="2708"><tspan x="352">六、做好每天的顾客档案，坚持每天都办新会</tspan><tspan x="352" dy="14.8">员，对新顾客都要仔细记录联系电话，年龄肤</tspan><tspan x="352" dy="14.8">质和工作行业等详细信息。在以后的活动时能</tspan><tspan x="352" dy="14.8">够准确通知，保证回头客。每天都坚持回访老</tspan><tspan x="352" dy="14.8">顾客。约她们回店派发新品试用装以便再次销</tspan><tspan x="352" dy="14.8">售。</tspan></text><path class="u" d="M346,2790 H587"/></g>
<g id="p4i7"><text class="t" x="352" y="2832"><tspan x="352">七、虚心听取每个顾客的意见或者建议，那样</tspan><tspan x="352" dy="14.75">有助于我们更好的完善店面。每天顾客的意见</tspan><tspan x="352" dy="14.75">和建议要分类记录清楚，那是我们以后工作改</tspan><tspan x="352" dy="14.75">进的方向，并且也会让顾客对我们品牌更有好</tspan><tspan x="352" dy="14.75">感。</tspan></text><path class="u" d="M346,2899.6 H587"/></g>
<g id="p4i8"><text class="t" x="352" y="2942.5"><tspan x="352">八、尽量每天多销售些。具体的工作是、向更</tspan><tspan x="352" dy="14.87">多的顾客去销售产品，和向每个顾客销售更多</tspan><tspan x="352" dy="14.87">的产品，积少成多。这点是提高销售的两种方</tspan><tspan x="352" dy="14.87">法，如果你细心耐心的做了，顾客会感觉得到</tspan><tspan x="352" dy="14.87">很细心周到的服务了。</tspan></text><path class="u" d="M346,3010 H587"/></g>
<g id="p4i9"><text class="t" x="352" y="3052"><tspan x="352">九、每晚工作结束前要补全所缺产品。具体的</tspan><tspan x="352" dy="14.83">工作是、清点账目上一天的销售量以及存货，</tspan><tspan x="352" dy="14.83">及时的补上存量很少的产品，以方便第二天的</tspan><tspan x="352" dy="14.83">销售工作正常顺利。</tspan></text><path class="u" d="M346,3105 H587"/></g>
<g id="p4i9n"><text class="t" x="90" y="3066.6"><tspan x="90">这就是我日常的工作，我每天都这样做，一个</tspan><tspan x="90" dy="14.7">季度下来我觉得我成长的非常快，学习到了很</tspan><tspan x="90" dy="14.7">多知识。对销售行业有了更多的认识。</tspan></text><path class="u" d="M84,3105 H325"/></g>
<g id="p5a"><text class="t" x="1559" y="3364"><tspan x="1559">不经意间，这一季度已悄然离去，在这一季度</tspan><tspan x="1559" dy="14.72">里，工作量不大，要学的却不少，时间的步伐</tspan><tspan x="1559" dy="14.72">带走了这一季度的忙碌、烦恼、郁闷，但是挣</tspan><tspan x="1559" dy="14.72">扎在心底的那份执着令我依然坚守岗位。以前</tspan><tspan x="1559" dy="14.72">常听说也遭遇过销售员之间为了比拼业绩，争</tspan><tspan x="1559" dy="14.72">夺提成，经常是不择手段，诡计迭出。幸运的</tspan><tspan x="1559" dy="14.72">是我所在的公司拥有一个和谐的销售氛围，同</tspan><tspan x="1559" dy="14.72">事之间既有竞争更有互相帮助，每次分歧总能</tspan><tspan x="1559" dy="14.72">在沟通中消除，每次难题也常常在集思广益中</tspan><tspan x="1559" dy="14.72">(即便我们店只有十多人)化解。正因为有这样</tspan><tspan x="1559" dy="14.72">浓厚的公司氛围和团队精神，才给了我在久居</tspan><tspan x="1559" dy="14.72">成长所需的养分。以下是对第二季度房地产销</tspan><tspan x="1559" dy="14.72">售工作总结：</tspan></text><path class="u" d="M1553,3549.3 H1793"/></g>
<g id="p5i0"><text class="t" x="1821" y="3192.3"><tspan x="1821">从自己那些已经购房的客户中，在对他们进行</tspan><tspan x="1821" dy="14.67">销售的过程里，我也体会到了许多销售心得。</tspan><tspan x="1821" dy="14.67">在这里拿出来给大家看看，也许我还不是做的</tspan><tspan x="1821" dy="14.67">很好，但是希望拿出来跟大家分享一下。</tspan></text><path class="u" d="M1815,3245 H2056"/></g>
<g id="p5i1"><text class="t" x="1821" y="3287.3"><tspan x="1821">第一、最基本的就是在接待当中，始终要保持</tspan><tspan x="1821" dy="14.4">热情。</tspan></text><path class="u" d="M1815,3310.7 H2056"/></g>
<g id="p5i2"><text class="t" x="1821" y="3353">第二、做好客户的登记，及进行回访跟踪。</text><path class="u" d="M1815,3361.7 H2043"/></g>
<g id="p5i3"><text class="t" x="1821" y="3403"><tspan x="1821">第三、经常性约客户过来看看房，让客户了解</tspan><tspan x="1821" dy="14.85">我们小区的动态。加强客户的购买信心，做好</tspan><tspan x="1821" dy="14.85">沟通工作。</tspan></text><path class="u" d="M1815,3441.7 H2056"/></g>
<g id="p5i4"><text class="t" x="1821" y="3484"><tspan x="1821">第四、提高自己的业务水平，加强房地产相关</tspan><tspan x="1821" dy="14.67">知识及最新的动态。在面对客户的时候就能游</tspan><tspan x="1821" dy="14.67">刃有余，树立自己的专业性，同时也让客户更</tspan><tspan x="1821" dy="14.67">加的想信自己。</tspan></text><path class="u" d="M1815,3536.7 H2056"/></g>
<g id="p5i5"><text class="t" x="1821" y="3578.3"><tspan x="1821">第五、多从客户的角度想问题，这样自己就可</tspan><tspan x="1821" dy="15.2">以针对性的进行看房，为客户提供最适合他的</tspan><tspan x="1821" dy="15.2">房子，解决他的疑虑，让客户可以放心的购房</tspan><tspan x="1821" dy="15.2">。</tspan></text><path class="u" d="M1815,3631 H2056"/></g>
<g id="p5i6"><text class="t" x="1821" y="3673.3"><tspan x="1821">第六、学会运用销售技巧，适当的逼客户尽快</tspan><tspan x="1821" dy="15">下决定。</tspan></text><path class="u" d="M1815,3696.7 H2056"/></g>
<g id="p5i7"><text class="t" x="1821" y="3772.3"><tspan x="1821">第七、找出并认清自己的目标，不断坚定自己</tspan><tspan x="1821" dy="14.68">勇往直前、坚持到底的信心，这个永远是最重</tspan><tspan x="1821" dy="14.68">要的。我坚信只要方向正确，方法正确，一步</tspan><tspan x="1821" dy="14.68">一个脚印，每个脚步都结结实实地踏在前进的</tspan><tspan x="1821" dy="14.68">道路上，反而可以早点抵达终点。如果领先靠</tspan><tspan x="1821" dy="14.68">的是机会，运气总有用尽的一天。</tspan></text><path class="u" d="M1815,3854 H2056"/></g>
<g id="p5i7a"><text class="t" x="2083" y="3739"><tspan x="2083">在在一季度里我会用自己的热情继续感染别人</tspan><tspan x="2083" dy="14.77">，在这个很好的平台上继续努力奋斗，给自己</tspan><tspan x="2083" dy="14.77">一个新的目标，每月给自己制定两套销售任务</tspan><tspan x="2083" dy="14.77">，每月成交一套。</tspan></text><path class="u" d="M2077,3791.7 H2317"/></g>
<g id="p5i7b"><text class="t" x="2083" y="3834"><tspan x="2083">个人的发展离不开公司的发展，而热爱则是做</tspan><tspan x="2083" dy="14.67">好每件工作不可缺的。所以，在这充满希望的</tspan><tspan x="2083" dy="14.67">公司里，我必将全力服务公司，热爱岗位，勤</tspan><tspan x="2083" dy="14.67">奋工作，严于律己，继续学习，用激情感染客</tspan><tspan x="2083" dy="14.67">户，用认真的严谨的态度面对我的职业，为客</tspan><tspan x="2083" dy="14.67">户制造感动，为公司创造利润!</tspan></text><path class="u" d="M2077,3916.7 H2317"/></g>
</svg>
